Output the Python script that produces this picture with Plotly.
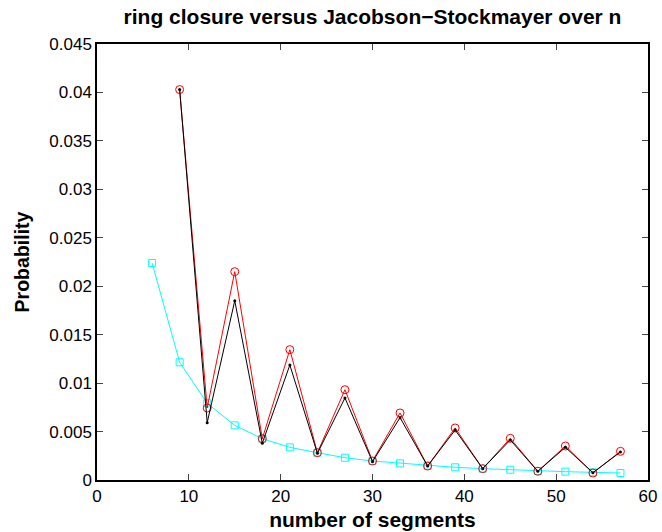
import plotly.graph_objects as go

n_ring = [9, 12, 15, 18, 21, 24, 27, 30, 33, 36, 39, 42, 45, 48, 51, 54, 57]
p_red = [0.0403, 0.00743, 0.0215, 0.00426, 0.01345, 0.00282, 0.00932, 0.00196, 0.00692,
         0.00144, 0.00537, 0.00117, 0.0043, 0.0009, 0.00351, 0.00072, 0.00296]
p_black = [0.0403, 0.00592, 0.0185, 0.00379, 0.01187, 0.00275, 0.00846, 0.00189, 0.00643,
           0.00144, 0.00516, 0.00117, 0.00413, 0.0009, 0.00337, 0.00076, 0.00289]
n_js = [6, 9, 12, 15, 18, 21, 24, 27, 30, 33, 36, 39, 42, 45, 48, 51, 54, 57]
p_js = [0.0224, 0.01215, 0.00792, 0.00564, 0.00426, 0.00337, 0.00282, 0.0023, 0.00196,
        0.00172, 0.00148, 0.00131, 0.00117, 0.00106, 0.00093, 0.00086, 0.00079, 0.00072]

x_ticks = [0, 10, 20, 30, 40, 50, 60]
y_ticks = [0, 0.005, 0.01, 0.015, 0.02, 0.025, 0.03, 0.035, 0.04, 0.045]
y_labels = ["0", "0.005", "0.01", "0.015", "0.02", "0.025", "0.03", "0.035", "0.04", "0.045"]

fig = go.Figure()
fig.add_trace(go.Scatter(x=n_js, y=p_js, mode="lines+markers",
                         line=dict(color="#00ffff", width=1),
                         marker=dict(symbol="square-open", size=7, color="#00ffff", line=dict(width=1))))
fig.add_trace(go.Scatter(x=n_ring, y=p_red, mode="lines+markers",
                         line=dict(color="#ff0000", width=1),
                         marker=dict(symbol="circle-open", size=8, color="#ff0000", line=dict(width=1))))
fig.add_trace(go.Scatter(x=n_ring, y=p_black, mode="lines+markers",
                         line=dict(color="#000000", width=1),
                         marker=dict(symbol="circle", size=3, color="#000000")))

font_family = "Liberation Sans, Arial, sans-serif"
fig.update_layout(
    width=662, height=532,
    margin=dict(l=97, r=14, t=44, b=52),
    paper_bgcolor="white", plot_bgcolor="white",
    showlegend=False,
    font=dict(family=font_family, color="black", size=17),
    title=dict(text="<b>ring closure versus Jacobson\u2212Stockmayer over n</b>",
               x=0.5, xanchor="center", xref="paper", y=1, yref="container", yanchor="top",
               pad=dict(t=9), font=dict(size=21)),
)
fig.update_xaxes(range=[0, 60], tickvals=x_ticks, ticks="inside", ticklen=6, tickwidth=1,
                 mirror="ticks", showline=True, linecolor="black", linewidth=1.5,
                 showgrid=False, zeroline=False, automargin=False,
                 title=dict(text="<b>number of segments</b>", font=dict(size=21), standoff=7),
                 tickfont=dict(size=17))
fig.update_yaxes(range=[0, 0.045], tickvals=y_ticks, ticktext=y_labels, ticks="inside",
                 ticklen=6, tickwidth=1, mirror="ticks", showline=True, linecolor="black",
                 linewidth=1.5, showgrid=False, zeroline=False, automargin=False,
                 title=dict(text="<b>Probability</b>", font=dict(size=19.5), standoff=14),
                 tickfont=dict(size=17))

fig.write_html("out.html")
